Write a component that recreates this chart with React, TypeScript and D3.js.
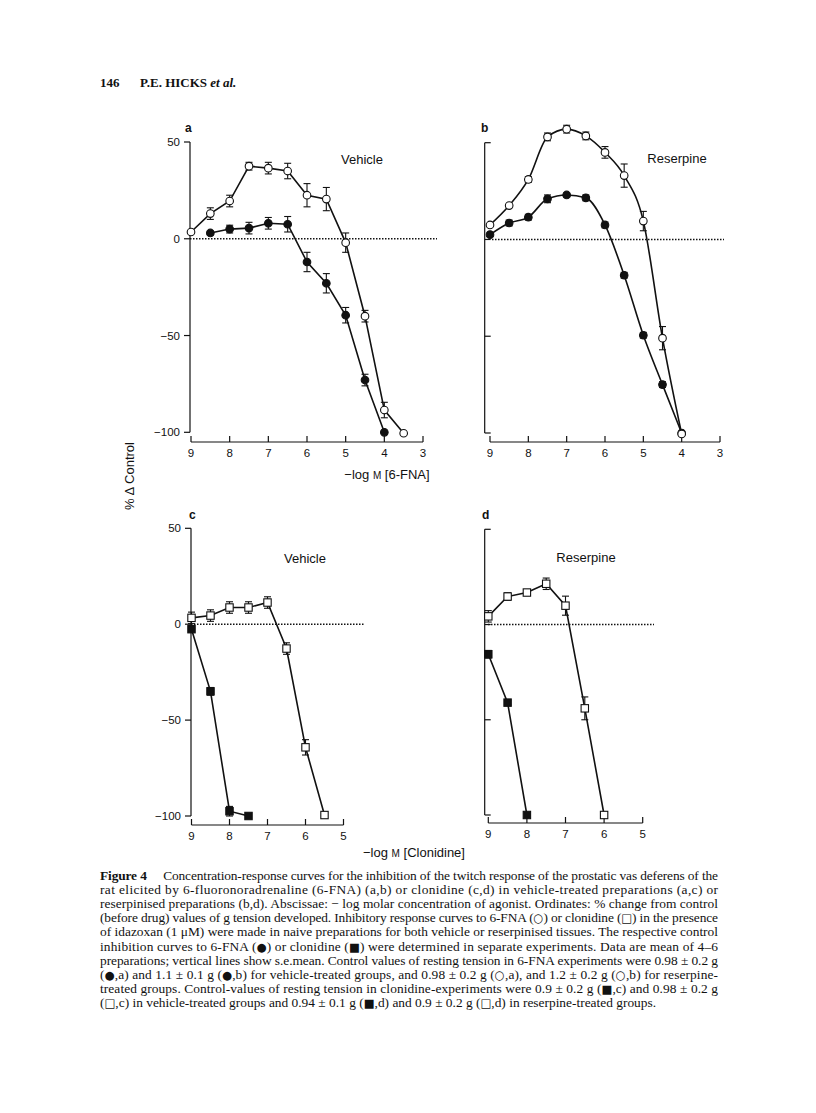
import React from "react";
import * as d3 from "d3";

// ---------- DATA ----------
const xA_open = [9, 8.5, 8, 7.5, 7, 6.5, 6, 5.5, 5, 4.5, 4, 3.5];
const aOpen = [3.5, 13, 19.5, 37.5, 36.5, 35, 22.5, 20.5, -2, -40, -88.5, -100.5];
const aOpenErr = [0, 3, 3, 2, 3, 4, 6, 6, 5, 3, 4, 0];
const xA_filled = [8.5, 8, 7.5, 7, 6.5, 6, 5.5, 5, 4.5, 4];
const aFilled = [3, 5, 5.5, 8, 7.5, -12, -23, -39.5, -73, -100];
const aFilledErr = [1, 2, 3, 3, 4, 5, 5, 4, 3, 0];

const xB = [9, 8.5, 8, 7.5, 7, 6.5, 6, 5.5, 5, 4.5, 4];
const bOpen = [7.5, 17.5, 31, 53, 57, 53.5, 45, 33, 9.5, -51, -100.5];
const bOpenErr = [0, 0, 1.5, 2, 2, 2, 3, 6, 5, 6, 0];
const bFilled = [2.5, 8.5, 11.5, 21, 23, 21.5, 7.5, -18.5, -49.5, -75, -100];
const bFilledErr = [0, 1.5, 1.5, 2, 1, 1.5, 1.5, 1.5, 1.5, 1.5, 0];

const xC_open = [9, 8.5, 8, 7.5, 7, 6.5, 6, 5.5];
const cOpen = [3.3, 4.5, 8.7, 8.7, 11.3, -12.7, -64.2, -99.5];
const cOpenErr = [3, 3, 3, 3, 3, 3, 4, 0];
const xC_filled = [9, 8.5, 8, 7.5];
const cFilled = [-2.6, -35, -97.5, -100];
const cFilledErr = [1, 2, 2.5, 0];

const xD_open = [9, 8.5, 8, 7.5, 7, 6.5, 6];
const dOpen = [4.3, 14.7, 16.8, 21.4, 9.9, -44, -100];
const dOpenErr = [3, 2, 1, 3, 5, 6, 0];
const xD_filled = [9, 8.5, 8];
const dFilled = [-15.6, -41, -100];
const dFilledErr = [2, 1, 0];

const yTicks = [50, 0, -50, -100];
const xTicks6FNA = [9, 8, 7, 6, 5, 4, 3];
const xTicksClon = [9, 8, 7, 6, 5];

const captionLines = [
  "Concentration-response curves for the inhibition of the twitch response of the prostatic vas deferens of the",
  "rat elicited by 6-fluoronoradrenaline (6-FNA) (a,b) or clonidine (c,d) in vehicle-treated preparations (a,c) or",
  "reserpinised preparations (b,d). Abscissae: \u2212 log molar concentration of agonist. Ordinates: % change from control",
  "(before drug) values of g tension developed. Inhibitory response curves to 6-FNA (\u25CB) or clonidine (\u25A1) in the presence",
  "of idazoxan (1 \u03BCM) were made in naive preparations for both vehicle or reserpinised tissues. The respective control",
  "inhibition curves to 6-FNA (\u25CF) or clonidine (\u25A0) were determined in separate experiments. Data are mean of 4\u20136",
  "preparations; vertical lines show s.e.mean. Control values of resting tension in 6-FNA experiments were 0.98 \u00B1 0.2 g",
  "(\u25CF,a) and 1.1 \u00B1 0.1 g (\u25CF,b) for vehicle-treated groups, and 0.98 \u00B1 0.2 g (\u25CB,a), and 1.2 \u00B1 0.2 g (\u25CB,b) for reserpine-",
  "treated groups. Control-values of resting tension in clonidine-experiments were 0.9 \u00B1 0.2 g (\u25A0,c) and 0.98 \u00B1 0.2 g",
  "(\u25A1,c) in vehicle-treated groups and 0.94 \u00B1 0.1 g (\u25A0,d) and 0.9 \u00B1 0.2 g (\u25A1,d) in reserpine-treated groups.",
];

type Series = { x: number[]; y: number[]; err: number[]; shape: "circle" | "square"; filled: boolean };

type PanelCfg = {
  label: string;
  title: string;
  titleX: number;
  titleY: number;
  labelX: number;
  labelY: number;
  xDomain: [number, number];
  xRange: [number, number];
  yRange: [number, number];
  yAxisX: number;
  xAxisY: number;
  xTicks: number[];
  showYLabels: boolean;
  dotEnd: number;
  dotStart: number;
  smooth: boolean;
  series: Series[];
};

const panels: PanelCfg[] = [
  {
    label: "a", title: "Vehicle", titleX: 362, titleY: 164, labelX: 185, labelY: 132,
    xDomain: [9, 3], xRange: [191, 423], yRange: [432.3, 142], yAxisX: 190, xAxisY: 442,
    xTicks: xTicks6FNA, showYLabels: true, dotStart: 190, dotEnd: 437, smooth: false,
    series: [
      { x: xA_filled, y: aFilled, err: aFilledErr, shape: "circle", filled: true },
      { x: xA_open, y: aOpen, err: aOpenErr, shape: "circle", filled: false },
    ],
  },
  {
    label: "b", title: "Reserpine", titleX: 677, titleY: 163, labelX: 481, labelY: 132,
    xDomain: [9, 3], xRange: [490, 720], yRange: [433, 142.7], yAxisX: 484.7, xAxisY: 442,
    xTicks: xTicks6FNA, showYLabels: false, dotStart: 492, dotEnd: 724, smooth: true,
    series: [
      { x: xB, y: bFilled, err: bFilledErr, shape: "circle", filled: true },
      { x: xB, y: bOpen, err: bOpenErr, shape: "circle", filled: false },
    ],
  },
  {
    label: "c", title: "Vehicle", titleX: 305, titleY: 563, labelX: 189, labelY: 519,
    xDomain: [9, 5], xRange: [191.5, 343.5], yRange: [816, 528.3], yAxisX: 191, xAxisY: 825,
    xTicks: xTicksClon, showYLabels: true, dotStart: 191, dotEnd: 365, smooth: false,
    series: [
      { x: xC_filled, y: cFilled, err: cFilledErr, shape: "square", filled: true },
      { x: xC_open, y: cOpen, err: cOpenErr, shape: "square", filled: false },
    ],
  },
  {
    label: "d", title: "Reserpine", titleX: 586, titleY: 562, labelX: 482, labelY: 519,
    xDomain: [9, 5], xRange: [488.3, 642.7], yRange: [815, 529.3], yAxisX: 484.7, xAxisY: 823,
    xTicks: xTicksClon, showYLabels: false, dotStart: 488, dotEnd: 654, smooth: false,
    series: [
      { x: xD_filled, y: dFilled, err: dFilledErr, shape: "square", filled: true },
      { x: xD_open, y: dOpen, err: dOpenErr, shape: "square", filled: false },
    ],
  },
];

const SANS = "'Liberation Sans', Arial, Helvetica, sans-serif";
const SERIF = "'Liberation Serif', 'Times New Roman', serif";
const SYM = "'DejaVu Sans', sans-serif";

function Panel({ cfg }: { cfg: PanelCfg }) {
  const xs = d3.scaleLinear().domain(cfg.xDomain).range(cfg.xRange);
  const ys = d3.scaleLinear().domain([-100, 50]).range(cfg.yRange);
  const tickLen = 6;
  const inward = !cfg.showYLabels;
  return (
    <g>
      <line x1={cfg.yAxisX} x2={cfg.yAxisX} y1={ys(50)} y2={ys(-100)} stroke="#111" strokeWidth={1.2} />
      {yTicks.map((t) => (
        <g key={t}>
          <line
            x1={cfg.yAxisX}
            x2={inward ? cfg.yAxisX + tickLen : cfg.yAxisX - tickLen}
            y1={ys(t)}
            y2={ys(t)}
            stroke="#111"
            strokeWidth={1.2}
          />
          {cfg.showYLabels && (
            <text x={cfg.yAxisX - 10} y={ys(t) + 4} textAnchor="end" fontFamily={SANS} fontSize={11.5} fill="#111">
              {t < 0 ? "\u2212" + Math.abs(t) : String(t)}
            </text>
          )}
        </g>
      ))}
      <line x1={xs(cfg.xDomain[0])} x2={xs(cfg.xDomain[1])} y1={cfg.xAxisY} y2={cfg.xAxisY} stroke="#111" strokeWidth={1.2} />
      {cfg.xTicks.map((t) => (
        <g key={t}>
          <line x1={xs(t)} x2={xs(t)} y1={cfg.xAxisY} y2={cfg.xAxisY - tickLen} stroke="#111" strokeWidth={1.2} />
          <text x={xs(t)} y={cfg.xAxisY + 15} textAnchor="middle" fontFamily={SANS} fontSize={11.5} fill="#111">
            {t}
          </text>
        </g>
      ))}
      <line x1={cfg.dotStart} x2={cfg.dotEnd} y1={ys(0)} y2={ys(0)} stroke="#111" strokeWidth={1.6} strokeDasharray="1.5,1.5" />
      <text x={cfg.labelX} y={cfg.labelY} fontFamily={SANS} fontWeight="bold" fontSize={12} fill="#111">
        {cfg.label}
      </text>
      <text x={cfg.titleX} y={cfg.titleY} textAnchor="middle" fontFamily={SANS} fontSize={13} fill="#111">
        {cfg.title}
      </text>
      {cfg.series.map((s, si) => {
        const pts: [number, number][] = s.x.map((xv, i) => [xs(xv), ys(s.y[i])]);
        const line = d3.line().curve(cfg.smooth ? d3.curveMonotoneX : d3.curveLinear);
        return (
          <g key={si}>
            <path d={line(pts) || ""} fill="none" stroke="#111" strokeWidth={1.6} />
            {s.x.map((xv, i) =>
              s.err[i] > 0 ? (
                <g key={"e" + i}>
                  <line x1={xs(xv)} x2={xs(xv)} y1={ys(s.y[i] + s.err[i])} y2={ys(s.y[i] - s.err[i])} stroke="#111" strokeWidth={1.1} />
                  <line x1={xs(xv) - 3.5} x2={xs(xv) + 3.5} y1={ys(s.y[i] + s.err[i])} y2={ys(s.y[i] + s.err[i])} stroke="#111" strokeWidth={1.1} />
                  <line x1={xs(xv) - 3.5} x2={xs(xv) + 3.5} y1={ys(s.y[i] - s.err[i])} y2={ys(s.y[i] - s.err[i])} stroke="#111" strokeWidth={1.1} />
                </g>
              ) : null
            )}
            {s.x.map((xv, i) =>
              s.shape === "circle" ? (
                <circle key={"m" + i} cx={xs(xv)} cy={ys(s.y[i])} r={3.8} fill={s.filled ? "#111" : "#fff"} stroke="#111" strokeWidth={1.1} />
              ) : (
                <rect key={"m" + i} x={xs(xv) - 3.7} y={ys(s.y[i]) - 3.7} width={7.4} height={7.4} fill={s.filled ? "#111" : "#fff"} stroke="#111" strokeWidth={1.1} />
              )
            )}
          </g>
        );
      })}
    </g>
  );
}

function captionParts(ln: string) {
  const parts = ln.split(/([\u25CB\u25A1\u25CF\u25A0])/);
  return parts.map((p, j) =>
    /^[\u25CB\u25A1\u25CF\u25A0]$/.test(p) ? (
      <tspan key={j} fontFamily={SYM} fontSize={11.5}>{p}</tspan>
    ) : (
      <tspan key={j}>{p}</tspan>
    )
  );
}

export default function App() {
  const capX0 = 100;
  const capW = 618;
  const capY0 = 880;
  const capDy = 14.1;
  return (
    <svg width={816} height={1113} style={{ position: "absolute", left: 0, top: 0, background: "#fff" }}>
      <rect x={0} y={0} width={816} height={1113} fill="#fff" />
      <text x={100} y={87} fontFamily={SERIF} fontWeight="bold" fontSize={13} fill="#111">146</text>
      <text x={140} y={87} fontFamily={SERIF} fontWeight="bold" fontSize={13} fill="#111">
        P.E. HICKS <tspan fontStyle="italic">et al.</tspan>
      </text>
      {panels.map((p) => (
        <Panel key={p.label} cfg={p} />
      ))}
      <text x={387} y={479} textAnchor="middle" fontFamily={SANS} fontSize={13} fill="#111">
        {"\u2212log "}<tspan fontSize={10}>M</tspan>{" [6-FNA]"}
      </text>
      <text x={414} y={857} textAnchor="middle" fontFamily={SANS} fontSize={13} fill="#111">
        {"\u2212log "}<tspan fontSize={10}>M</tspan>{" [Clonidine]"}
      </text>
      <text transform="translate(134,476) rotate(-90)" textAnchor="middle" fontFamily={SANS} fontSize={13} fill="#111">
        % Δ Control
      </text>
      {captionLines.map((ln, i) => {
        const justify = i < captionLines.length - 1;
        const y = capY0 + i * capDy;
        const extra = justify ? { textLength: capW, lengthAdjust: "spacing" } : {};
        return (
          <text key={i} x={capX0} y={y} fontFamily={SERIF} fontSize={13.4} fill="#111" {...extra}>
            {i === 0 && <tspan fontWeight="bold">{"Figure 4\u2003 "}</tspan>}
            {captionParts(ln)}
          </text>
        );
      })}
    </svg>
  );
}
